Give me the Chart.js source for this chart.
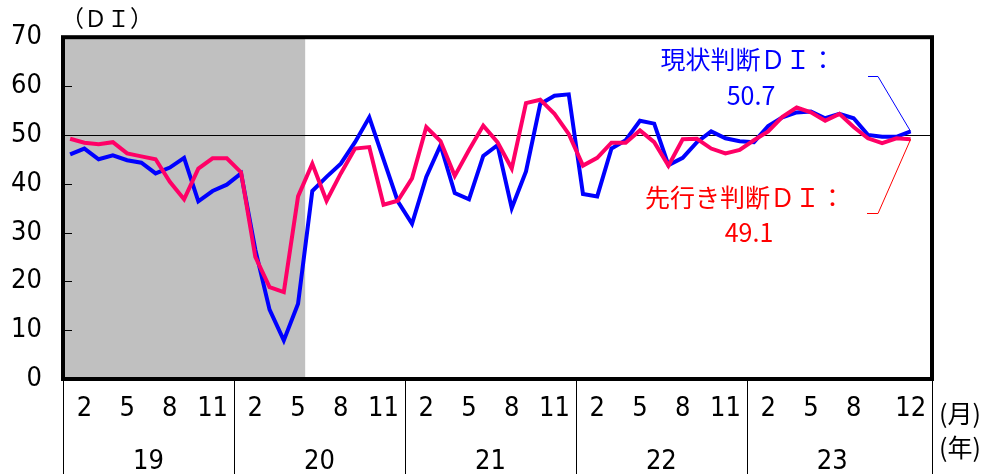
<!DOCTYPE html>
<html lang="ja">

<head>
   <meta charset="UTF-8">
   <title>景気ウォッチャー調査 DI</title>
   <style>
      body {
         margin: 0;
         background: #fff;
      }
   </style>
</head>

<body>
   <canvas id="chart-di" width="987" height="474"></canvas>
   <script src="https://cdn.jsdelivr.net/npm/chart.js@4.4.0/dist/chart.umd.min.js"></script>
   <script>
      // data
      var years = ['19', '20', '21', '22', '23'];
      var tickMonths = [2, 5, 8, 11];
      var lastTickMonth = 12;

      var genjoDI = [
         46.0, 47.2, 45.0, 45.8, 44.8, 44.3, 42.1, 43.3, 45.3, 36.4, 38.5, 39.8,
         42.1, 26.5, 14.2, 7.9, 15.4, 38.5, 41.4, 44.1, 48.5, 53.6, 45.0, 36.4,
         31.8, 41.4, 47.9, 38.1, 36.8, 45.7, 47.9, 35.0, 42.5, 56.3, 58.0, 58.3,
         37.9, 37.4, 47.2, 48.9, 52.9, 52.3, 43.8, 45.3, 48.5, 50.7, 49.3, 48.7,
         48.5, 51.8, 53.6, 54.6, 54.8, 53.4, 54.3, 53.4, 50.0, 49.6, 49.6, 50.7
      ];
      var sakiyukiDI = [
         49.2, 48.4, 48.1, 48.5, 46.2, 45.6, 45.0, 40.4, 36.8, 43.1, 45.2, 45.2,
         42.3, 25.0, 18.8, 17.8, 37.4, 44.1, 36.5, 42.1, 47.2, 47.5, 35.7, 36.5,
         41.1, 51.6, 48.7, 41.6, 46.9, 51.9, 48.5, 43.1, 56.5, 57.2, 54.3, 50.2,
         43.7, 45.3, 48.4, 48.4, 50.9, 48.5, 43.7, 49.1, 49.2, 47.2, 46.2, 46.9,
         48.9, 50.7, 53.7, 55.6, 54.6, 52.9, 54.3, 51.6, 49.3, 48.3, 49.3, 49.1
      ];
      // 景気後退期 shading: first 17 months (2019/1 - 2020/5)
      var shadeMonths = 17;
      var refLine = 50;

      var labels = [];
      years.forEach(function (y) {
         for (var m = 1; m <= 12; m++) labels.push(y + '/' + m);
      });
      labels.push(''); // empty slot at the right end

      var numFont = "'Liberation Sans Narrow', 'DejaVu Sans Condensed', sans-serif";
      var jpFont = "'Noto Sans CJK JP', sans-serif";

      var diPlugin = {
         id: 'diPlugin',
         beforeDatasetsDraw: function (chart) {
            var ctx = chart.ctx, a = chart.chartArea;
            var x = chart.scales.x, y = chart.scales.y;
            var half = (x.getPixelForValue(1) - x.getPixelForValue(0)) / 2;
            ctx.save();
            ctx.fillStyle = '#c0c0c0';
            var shadeEnd = x.getPixelForValue(shadeMonths - 1) + half;
            ctx.fillRect(a.left, a.top, shadeEnd - a.left, a.bottom - a.top);
            // 50 line
            ctx.strokeStyle = '#000';
            ctx.lineWidth = 1;
            var y50 = Math.round(y.getPixelForValue(refLine)) + 0.5;
            ctx.beginPath();
            ctx.moveTo(a.left, y50);
            ctx.lineTo(a.right, y50);
            ctx.stroke();
            ctx.restore();
         },
         afterDatasetsDraw: function (chart) {
            var ctx = chart.ctx, a = chart.chartArea;
            var x = chart.scales.x, y = chart.scales.y;
            var half = (x.getPixelForValue(1) - x.getPixelForValue(0)) / 2;
            ctx.save();
            // frame
            ctx.strokeStyle = '#000';
            ctx.lineWidth = 4;
            ctx.strokeRect(a.left, a.top, a.right - a.left, a.bottom - a.top);
            // inner ticks on y
            ctx.lineWidth = 1;
            for (var v = 10; v < 70; v += 10) {
               var py = Math.round(y.getPixelForValue(v)) + 0.5;
               ctx.beginPath();
               ctx.moveTo(a.left, py);
               ctx.lineTo(a.left + 9, py);
               ctx.stroke();
            }
            // year dividers and year labels
            ctx.fillStyle = '#000';
            ctx.font = '27px ' + numFont;
            ctx.textAlign = 'center';
            ctx.textBaseline = 'middle';
            years.forEach(function (yr, i) {
               var x0 = x.getPixelForValue(i * 12) - half;
               var x1 = x.getPixelForValue(i * 12 + 11) + half;
               ctx.beginPath();
               ctx.moveTo(Math.round(x0) + 0.5, a.bottom);
               ctx.lineTo(Math.round(x0) + 0.5, chart.height);
               ctx.stroke();
               ctx.fillText(yr, (x0 + x1) / 2, 462);
            });
            ctx.beginPath();
            ctx.moveTo(Math.round(a.right) + 0.5, a.bottom);
            ctx.lineTo(Math.round(a.right) + 0.5, chart.height);
            ctx.stroke();

            // unit labels
            ctx.font = '25px ' + jpFont;
            ctx.fillText('(月)', 960, 413);
            ctx.fillText('(年)', 960, 447);
            ctx.font = '23px ' + jpFont;
            ctx.fillText('（ＤＩ）', 107, 18);

            // annotations
            var n = genjoDI.length - 1;
            var bx = x.getPixelForValue(n), by = y.getPixelForValue(genjoDI[n]);
            var rx = x.getPixelForValue(n), ry = y.getPixelForValue(sakiyukiDI[n]);
            ctx.lineWidth = 1;
            ctx.strokeStyle = '#0000ff';
            ctx.beginPath();
            ctx.moveTo(868, 76.5);
            ctx.lineTo(878, 76.5);
            ctx.lineTo(bx, by);
            ctx.stroke();
            ctx.strokeStyle = '#ff0000';
            ctx.beginPath();
            ctx.moveTo(867, 213.5);
            ctx.lineTo(878, 213.5);
            ctx.lineTo(rx, ry);
            ctx.stroke();

            ctx.font = '25px ' + jpFont;
            ctx.fillStyle = '#0000ff';
            ctx.fillText('現状判断ＤＩ：', 748, 59);
            ctx.fillText(genjoDI[n].toFixed(1), 751, 95);
            ctx.fillStyle = '#ff0000';
            ctx.fillText('先行き判断ＤＩ：', 745, 197);
            ctx.fillText(sakiyukiDI[n].toFixed(1), 749, 232);
            ctx.restore();
         }
      };

      var config = {
         type: 'line',
         data: {
            labels: labels,
            datasets: [{
               label: '先行き判断DI',
               data: sakiyukiDI,
               borderColor: '#ff0066',
               borderWidth: 4,
               pointRadius: 0,
               tension: 0,
               fill: false,
               order: 0
            }, {
               label: '現状判断DI',
               data: genjoDI,
               borderColor: '#0000ff',
               borderWidth: 4,
               pointRadius: 0,
               tension: 0,
               fill: false,
               order: 1
            }]
         },
         options: {
            responsive: false,
            animation: false,
            layout: {
               padding: { top: 34, right: 55, left: 0, bottom: 0 }
            },
            plugins: {
               legend: { display: false },
               tooltip: { enabled: false }
            },
            scales: {
               x: {
                  type: 'category',
                  offset: true,
                  grid: { display: false, drawTicks: false },
                  border: { display: false },
                  afterFit: function (scale) { scale.height = 95; },
                  ticks: {
                     autoSkip: false,
                     maxRotation: 0,
                     padding: 14,
                     color: '#000',
                     font: { size: 27, family: numFont },
                     callback: function (val, i) {
                        var lab = this.getLabelForValue(val);
                        if (!lab) return '';
                        var m = parseInt(lab.split('/')[1], 10);
                        var isLastYear = i >= (years.length - 1) * 12;
                        if (isLastYear) {
                           if (m === 11) return '';
                           if (m === lastTickMonth) return String(m);
                        }
                        return tickMonths.indexOf(m) >= 0 ? String(m) : '';
                     }
                  }
               },
               y: {
                  min: 0,
                  max: 70,
                  grid: { display: false, drawTicks: false },
                  border: { display: false },
                  afterFit: function (scale) { scale.width = 63; },
                  ticks: {
                     stepSize: 10,
                     padding: 21,
                     color: '#000',
                     font: { size: 27, family: numFont }
                  }
               }
            }
         },
         plugins: [diPlugin]
      };

      var ctxDI = document.getElementById('chart-di').getContext('2d');
      window.myDI = new Chart(ctxDI, config);
   </script>
</body>

</html>
